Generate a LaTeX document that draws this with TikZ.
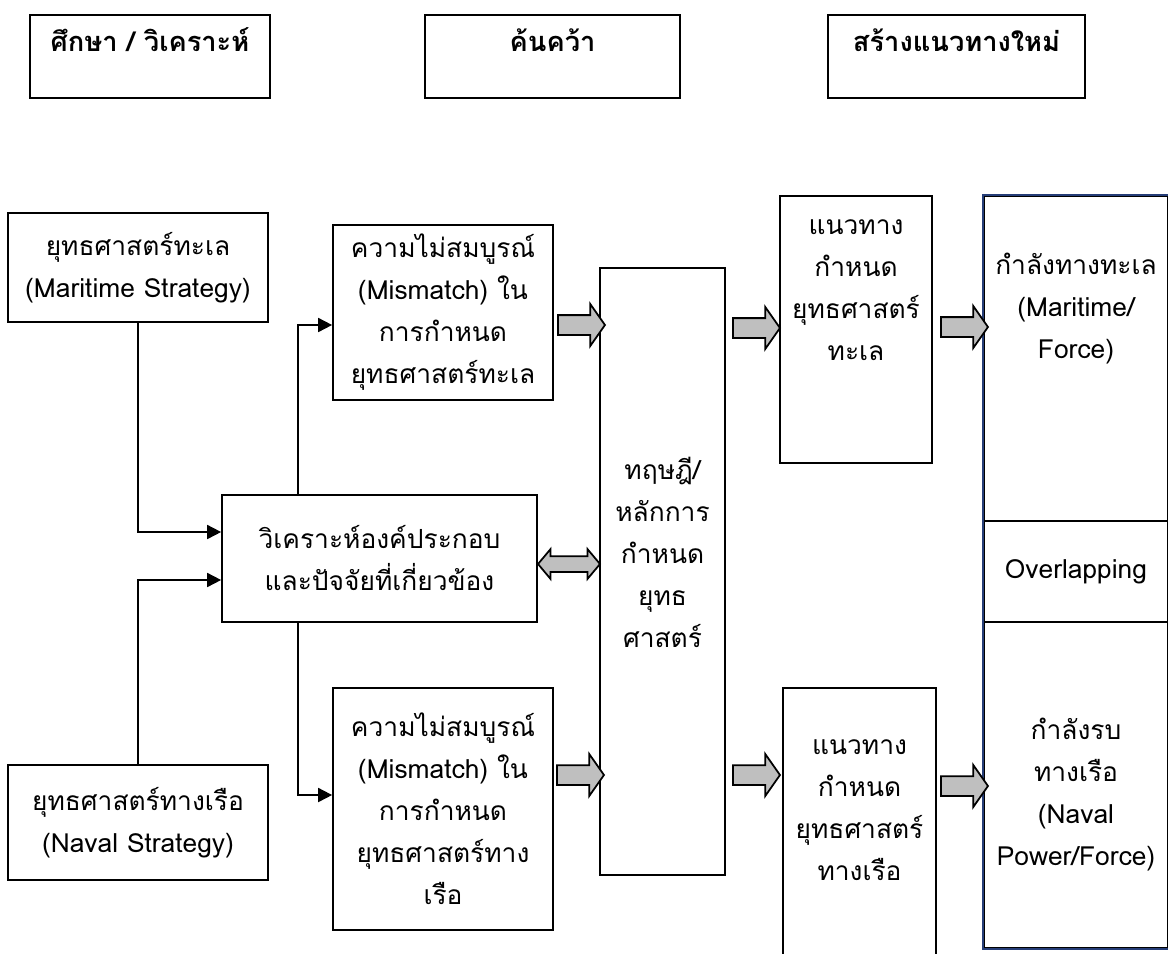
\documentclass[tikz,border=0pt]{standalone}
\usepackage{fontspec}
\setmainfont[Script=Thai]{Loma}
\usetikzlibrary{arrows.meta,shapes.arrows}
\definecolor{colblue}{RGB}{38,62,120}
\newcommand\bodyfnt{\fontsize{15}{23.9}\selectfont}
\tikzset{
  box_n/.style = {draw=black, line width=1pt, rectangle, align=center,
    inner sep=0pt, font=\bodyfnt},
  head_n/.style = {box_n, font=\fontsize{15.5}{24}\selectfont\bfseries,
    minimum height=1.66cm, text height=0.4cm, text depth=0.6cm},
  txt_n/.style = {align=center, inner sep=0pt, font=\bodyfnt},
  blk_arr/.style = {single arrow, draw=black, line width=1pt, fill=black!25,
    inner xsep=0pt, inner ysep=0.18cm, single arrow head extend=0.22cm,
    single arrow tip angle=110, minimum height=0.94cm},
  blk_dbl/.style = {double arrow, draw=black, line width=1pt, fill=black!25,
    inner xsep=0pt, inner ysep=0.14cm, double arrow head extend=0.14cm,
    double arrow tip angle=100, minimum height=1.24cm}}

\begin{document}
\begin{tikzpicture}[x=0.02cm, y=-0.02cm, line width=1pt,
  >={Triangle[length=0.28cm,width=0.28cm]}]
\useasboundingbox (0,0) rectangle (1168,953);

\node [head_n, minimum width=4.8cm] (h1) at (150,56.5) {ศึกษา / วิเคราะห์};
\node [head_n, minimum width=5.1cm] (h2) at (552.5,56.5) {ค้นคว้า};
\node [head_n, minimum width=5.14cm] (h3) at (956.5,56.5) {สร้างแนวทางใหม่};

\node [box_n, minimum width=5.2cm, minimum height=2.18cm] (sea) at (138,267.5)
  {ยุทธศาสตร์ทะเล\\(Maritime Strategy)};
\node [box_n, minimum width=5.2cm, minimum height=2.3cm] (nav) at (138,822.5)
  {ยุทธศาสตร์ทางเรือ\\(Naval Strategy)};
\node [box_n, minimum width=6.3cm, minimum height=2.54cm] (ana) at (379.5,558.5)
  {วิเคราะห์องค์ประกอบ\\และปัจจัยที่เกี่ยวข้อง};
\node [box_n, minimum width=4.4cm, minimum height=3.5cm] (mt) at (443,312.5)
  {ความไม่สมบูรณ์\\(Mismatch) ใน\\การกำหนด\\ยุทธศาสตร์ทะเล};
\node [box_n, minimum width=4.4cm, minimum height=4.84cm] (mb) at (443,809)
  {ความไม่สมบูรณ์\\(Mismatch) ใน\\การกำหนด\\ยุทธศาสตร์ทาง\\เรือ};

\node [box_n, minimum width=2.5cm, minimum height=12.14cm] (th) at (662.5,571.5) {};
\node [txt_n] (th_t) at (662.5,552) {ทฤษฎี/\\หลักการ\\กำหนด\\ยุทธ\\ศาสตร์};
\node [box_n, minimum width=3.04cm, minimum height=5.34cm] (gt) at (856,329.5) {};
\node [txt_n] (gt_t) at (856,290) {แนวทาง\\กำหนด\\ยุทธศาสตร์\\ทะเล};
\node [box_n, minimum width=3.06cm, minimum height=5.48cm] (gb) at (859.5,825) {};
\node [txt_n] (gb_t) at (859.5,810) {แนวทาง\\กำหนด\\ยุทธศาสตร์\\ทางเรือ};

\node [box_n, minimum width=3.68cm, minimum height=6.5cm] (ct) at (1076,358.5) {};
\node [txt_n] (ct_t) at (1076,309) {กำลังทางทะเล\\(Maritime/\\Force)};
\node [box_n, minimum width=3.68cm, minimum height=2.02cm] (co) at (1076,571.5) {Overlapping};
\node [box_n, minimum width=3.68cm, minimum height=6.52cm] (cb) at (1076,785) {};
\node [txt_n] (cb_t) at (1076,795) {กำลังรบ\\ทางเรือ\\(Naval\\Power/Force)};
\draw [colblue] (ct.north east) -- (ct.north west) -- (cb.south west) -- (cb.south east);

\draw [->] (sea.south) |- ([yshift=0.53cm]ana.west);
\draw [->] (nav.north) |- ([yshift=-0.43cm]ana.west);
\draw [->] ([xshift=-1.63cm]ana.north) |- ([yshift=-0.25cm]mt.west);
\draw [->] ([xshift=-1.63cm]ana.south) |- ([yshift=0.28cm]mb.west);

\node [blk_arr] (a1) at (578,325) {};
\node [blk_arr] (a2) at (753,328) {};
\node [blk_arr] (a3) at (961,327) {};
\node [blk_arr] (a4) at (577,775) {};
\node [blk_arr] (a5) at (753,775) {};
\node [blk_arr] (a6) at (961,786) {};
\node [blk_dbl] (d1) at (569,564) {};
\end{tikzpicture}
\end{document}
